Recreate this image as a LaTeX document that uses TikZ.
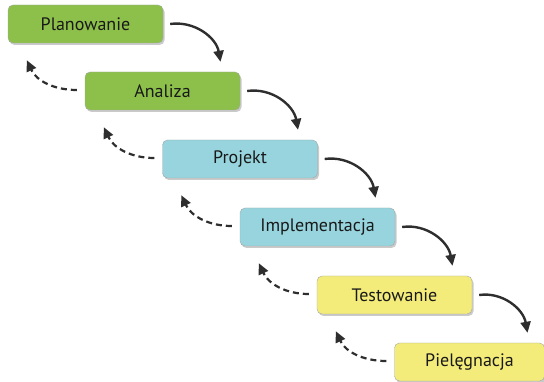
\documentclass[tikz,border=0pt]{standalone}
\usepackage{fontspec}
\setmainfont{PT Sans}
\usetikzlibrary{arrows.meta,shadows}
\definecolor{cgreen}{HTML}{8DC04A}
\definecolor{cblue}{HTML}{97D4DD}
\definecolor{cyellow}{HTML}{F3EC7A}
\definecolor{cline}{HTML}{2E2E2E}
\tikzset{
  phase/.style={draw=black!35, line width=0.4pt, rounded corners=5pt,
    minimum width=155pt, minimum height=38pt, inner sep=0pt,
    font=\fontsize{18}{20}\selectfont, text=black!90,
    drop shadow={shadow xshift=1.5pt, shadow yshift=-2pt, fill=black!35, opacity=0.6}},
  fwd/.style={line width=2.4pt, draw=cline, -{Triangle[length=11pt,width=10pt]}},
  back/.style={line width=2.2pt, draw=cline, dash pattern=on 6pt off 4pt, -{Triangle[length=11pt,width=10pt]}}
}
\begin{document}
\begin{tikzpicture}[x=1pt,y=-1pt]
\useasboundingbox (0,0) rectangle (544,382);
\node[phase, fill=cgreen] (p1) at (85.5,24) {Planowanie};
\node[phase, fill=cgreen] (p2) at (162.5,91) {Analiza};
\node[phase, fill=cblue] (p3) at (240,159) {Projekt};
\node[phase, fill=cblue] (p4) at (317.5,227) {Implementacja};
\node[phase, fill=cyellow] (p5) at (394.5,295) {Testowanie};
\node[phase, fill=cyellow, minimum width=150pt] (p6) at (469.5,362) {Pielęgnacja};
\foreach \a/\b in {p1/p2,p2/p3,p3/p4,p4/p5,p5/p6}{
  \coordinate (s) at ([xshift=7pt]\a.east);
  \coordinate (t) at ([xshift=58pt,yshift=10pt]\b.north);
  \draw[fwd] (s) to[out=8,in=100] (t);
  \coordinate (bs) at ([xshift=-8pt,yshift=1pt]\b.west);
  \coordinate (bt) at ([xshift=19pt,yshift=-17pt]\a.south west);
  \draw[back] (bs) to[out=180,in=-65] (bt);
}
\end{tikzpicture}
\end{document}
